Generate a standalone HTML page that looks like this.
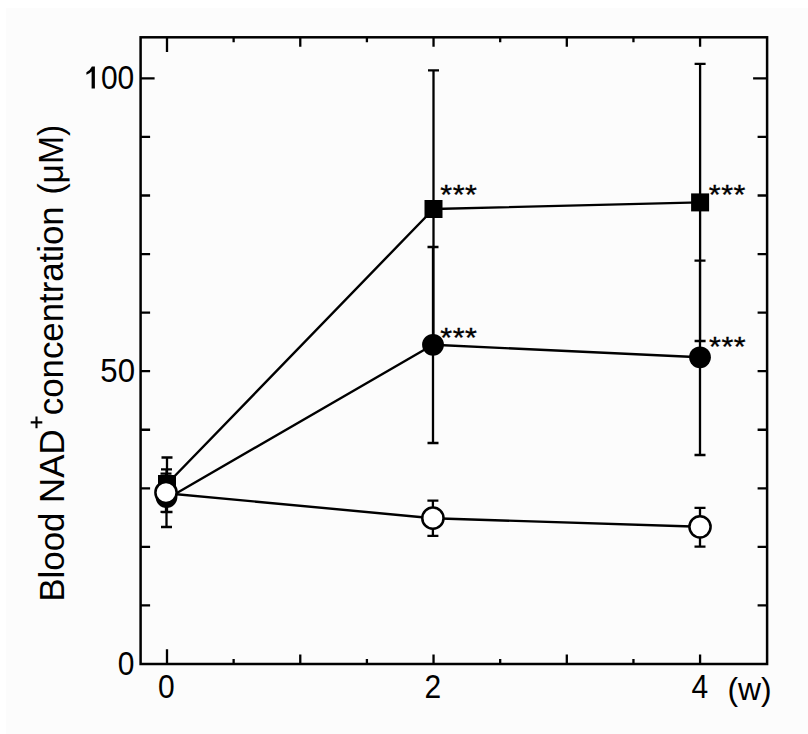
<!DOCTYPE html>
<html><head><meta charset="utf-8"><style>
html,body{margin:0;padding:0;background:#fff;width:808px;height:734px;overflow:hidden}
svg{display:block}
</style></head><body>
<svg width="808" height="734" viewBox="0 0 808 734">
<rect width="808" height="734" fill="#fff"/>
<rect x="6" y="8" width="802" height="726" fill="#fcfcfc"/>
<rect x="140.6" y="37.3" width="626.50" height="626.70" fill="none" stroke="#000" stroke-width="2.5"/>
<path d="M167.00 664.0V649.20M167.00 37.3V52.10M233.63 664.0V659.00M233.63 37.3V42.30M300.27 664.0V654.50M300.27 37.3V46.80M366.91 664.0V659.00M366.91 37.3V42.30M433.54 664.0V654.50M433.54 37.3V46.80M500.18 664.0V659.00M500.18 37.3V42.30M566.81 664.0V654.50M566.81 37.3V46.80M633.45 664.0V659.00M633.45 37.3V42.30M700.08 664.0V654.50M700.08 37.3V46.80M140.6 605.44H150.10M767.1 605.44H757.60M140.6 546.88H150.10M767.1 546.88H757.60M140.6 488.32H150.10M767.1 488.32H757.60M140.6 429.76H150.10M767.1 429.76H757.60M140.6 371.20H150.10M767.1 371.20H757.60M140.6 312.64H150.10M767.1 312.64H757.60M140.6 254.08H150.10M767.1 254.08H757.60M140.6 195.52H150.10M767.1 195.52H757.60M140.6 136.96H150.10M767.1 136.96H757.60M140.6 78.40H154.60M767.1 78.40H753.10" stroke="#000" stroke-width="2.3" fill="none"/>
<polyline points="167.0,484.0 433.5,209.0 700.1,202.4" fill="none" stroke="#000" stroke-width="2.4" stroke-linejoin="round"/>
<polyline points="166.5,499.0 433.0,344.8 700.0,357.3" fill="none" stroke="#000" stroke-width="2.4" stroke-linejoin="round"/>
<polyline points="166.0,493.2 432.9,518.2 700.0,526.8" fill="none" stroke="#000" stroke-width="2.4" stroke-linejoin="round"/>
<path d="M167.0 457.5V512.0M161.5 457.5H172.5M161.5 512.0H172.5M433.5 70.4V347.6M428.0 70.4H439.0M428.0 347.6H439.0M700.1 63.8V341.0M694.6 63.8H705.6M694.6 341.0H705.6M166.5 469.4V527.0M161.0 469.4H172.0M161.0 527.0H172.0M433.0 247.0V443.0M427.5 247.0H438.5M427.5 443.0H438.5M700.0 260.7V455.0M694.5 260.7H705.5M694.5 455.0H705.5M166.0 473.7V511.8M160.5 473.7H171.5M160.5 511.8H171.5M432.9 500.6V535.8M427.4 500.6H438.4M427.4 535.8H438.4M700.0 507.9V546.7M694.5 507.9H705.5M694.5 546.7H705.5" stroke="#000" stroke-width="2.3" fill="none"/>
<rect x="158.0" y="475.0" width="18" height="18" fill="#000"/>
<rect x="424.5" y="200.0" width="18" height="18" fill="#000"/>
<rect x="691.1" y="193.4" width="18" height="18" fill="#000"/>
<circle cx="166.5" cy="497.0" r="10.9" fill="#000"/>
<circle cx="433.0" cy="344.8" r="10.9" fill="#000"/>
<circle cx="700.0" cy="357.3" r="10.9" fill="#000"/>
<circle cx="166.0" cy="492.5" r="10.6" fill="#fff" stroke="#000" stroke-width="2.5"/>
<circle cx="432.9" cy="518.2" r="10.6" fill="#fff" stroke="#000" stroke-width="2.5"/>
<circle cx="700.0" cy="526.8" r="10.6" fill="#fff" stroke="#000" stroke-width="2.5"/>
<g font-family="Liberation Sans, sans-serif" font-size="30" fill="#000">
<text transform="translate(134.3,89) scale(1.0,1.12)" text-anchor="end">00</text>
<text transform="translate(135,381.8) scale(1.04,1.12)" text-anchor="end">50</text>
<text transform="translate(134.5,674.8) scale(1.0,1.12)" text-anchor="end">0</text>
<text transform="translate(166.3,697.9) scale(1.0,1.12)" text-anchor="middle">0</text>
<text transform="translate(432.8,697.9) scale(1.0,1.12)" text-anchor="middle">2</text>
<text transform="translate(699.9,697.9) scale(1.0,1.12)" text-anchor="middle">4</text>
<text transform="translate(727.5,700) scale(1.06,1.05)" text-anchor="start">(w)</text>
</g>
<path d="M91.9 66.6H94.9V88.6H91.6V71.4Q89.9 73.4 86.4 74.8V72.2Q90.4 70.2 91.9 66.6Z" fill="#000"/>
<g font-family="Liberation Sans, sans-serif" font-size="30.5" fill="#000" stroke="#000" stroke-width="0.35">
<text transform="translate(440.3,204.45) scale(1,0.9)" letter-spacing="0.5">***</text>
<text transform="translate(708.8,204.30) scale(1,0.9)" letter-spacing="0.5">***</text>
<text transform="translate(440.3,347.30) scale(1,0.9)" letter-spacing="0.5">***</text>
<text transform="translate(709.1,356.30) scale(1,0.9)" letter-spacing="0.5">***</text>
</g>
<g font-family="Liberation Sans, sans-serif" font-size="34.2" fill="#000">
<text transform="translate(63.5,601.6) rotate(-90) scale(1.018,1)">Blood NAD</text>
<text transform="translate(63.4,415.2) rotate(-90) scale(1.0175,1)">concentration</text>
<text transform="translate(63.2,194.6) rotate(-90) scale(0.985,1)">(μM)</text>
</g>
<path d="M30.7 422.4H42.3M36.5 416.6V428.2" stroke="#000" stroke-width="2.1" fill="none"/>
</svg>
</body></html>
